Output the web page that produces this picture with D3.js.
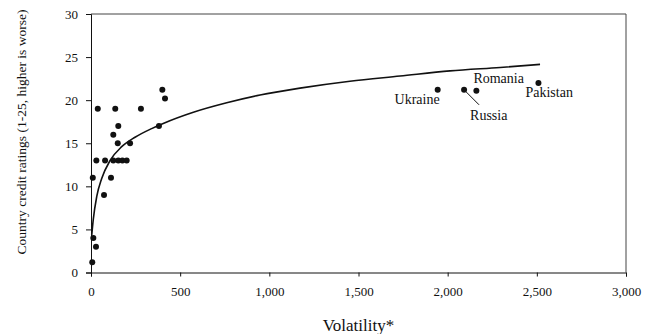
<!DOCTYPE html>
<html>
<head>
<meta charset="utf-8">
<script src="https://cdn.jsdelivr.net/npm/d3@7"></script>
<style>
  html, body { margin: 0; padding: 0; background: #fff; }
  svg { display: block; }
  text { font-family: "Liberation Serif", "Times New Roman", serif; fill: #111; }
</style>
</head>
<body>
<svg id="chart" width="645" height="334"></svg>
<script>
// ---- data ----
const volatility = [7, 13, 28, 10, 112, 73, 30, 79, 125, 153, 176, 200, 150, 219, 125, 153, 38, 136, 280, 381, 400, 415, 1944, 2092, 2161, 2509];
const rating     = [1.2, 4, 3, 11, 11, 9, 13, 13, 13, 13, 13, 13, 15, 15, 16, 17, 19, 19, 19, 17, 21.2, 20.2, 21.2, 21.2, 21.1, 22];
const countryLabels = [
  { name: "Ukraine",  index: 22 },
  { name: "Russia",   index: 23 },
  { name: "Romania",  index: 24 },
  { name: "Pakistan", index: 25 }
];
// logarithmic trend line
const trendVol    = [4, 13, 32, 60, 107, 172, 247, 340, 405, 574, 761, 948, 1172, 1452, 1733, 2013, 2294, 2518];
const trendRating = [4.3, 6.2, 8.8, 10.9, 13.0, 14.6, 15.7, 16.7, 17.3, 18.6, 19.7, 20.6, 21.4, 22.2, 22.8, 23.4, 23.8, 24.15];
const xTicks = [0, 500, 1000, 1500, 2000, 2500, 3000];
const yTicks = [0, 5, 10, 15, 20, 25, 30];

// ---- layout ----
const svg = d3.select("#chart");
const plotL = 91, plotR = 626, plotT = 14, plotB = 272.5;

const x = d3.scaleLinear().domain([0, 3000]).range([plotL, plotR]);
const y = d3.scaleLinear().domain([0, 30]).range([plotB, plotT]);

// frame (top and right)
svg.append("line").attr("x1", plotL).attr("x2", plotR).attr("y1", plotT).attr("y2", plotT)
  .attr("stroke", "#444").attr("stroke-width", 1);
svg.append("line").attr("x1", plotR).attr("x2", plotR).attr("y1", plotT).attr("y2", plotB)
  .attr("stroke", "#444").attr("stroke-width", 1);

// x axis
const xAxis = svg.append("g").attr("transform", `translate(0,${plotB})`)
  .call(d3.axisBottom(x).tickValues(xTicks).tickFormat(d3.format(",")).tickSize(4).tickPadding(10));
xAxis.selectAll("text").style("font-size", "13px").attr("fill", "#111");
xAxis.select(".domain").attr("stroke", "#111");
xAxis.selectAll(".tick line").attr("stroke", "#111");

// y axis
const yAxis = svg.append("g").attr("transform", `translate(${plotL},0)`)
  .call(d3.axisLeft(y).tickValues(yTicks).tickSize(5).tickPadding(8));
yAxis.selectAll("text").style("font-size", "13px").attr("fill", "#111");
yAxis.select(".domain").attr("stroke", "#111");
yAxis.selectAll(".tick line").attr("stroke", "#111");

// axis titles
svg.append("text")
  .attr("transform", "translate(26,132) rotate(-90)")
  .attr("text-anchor", "middle")
  .style("font-size", "13.5px")
  .text("Country credit ratings (1-25, higher is worse)");

svg.append("text")
  .attr("x", (plotL + plotR) / 2).attr("y", 331)
  .attr("text-anchor", "middle")
  .style("font-size", "17px")
  .text("Volatility*");

// trend line
const trend = trendVol.map((v, i) => [v, trendRating[i]]);
svg.append("path")
  .datum(trend)
  .attr("fill", "none")
  .attr("stroke", "#111")
  .attr("stroke-width", 1.6)
  .attr("d", d3.line().x(d => x(d[0])).y(d => y(d[1])).curve(d3.curveMonotoneX));

// points
const pts = volatility.map((v, i) => [v, rating[i]]);
svg.append("g").selectAll("circle").data(pts).join("circle")
  .attr("cx", d => x(d[0])).attr("cy", d => y(d[1])).attr("r", 3)
  .attr("fill", "#111");

// country labels
const lab = svg.append("g").style("font-size", "14px");
const offsets = {
  Ukraine:  { dx: 2,   dy: 14, anchor: "end" },
  Russia:   { dx: 6,   dy: 30, anchor: "start" },
  Romania:  { dx: -3,  dy: -8, anchor: "start" },
  Pakistan: { dx: -13, dy: 14, anchor: "start" }
};
countryLabels.forEach(c => {
  const px = x(volatility[c.index]), py = y(rating[c.index]);
  const o = offsets[c.name];
  lab.append("text").attr("x", px + o.dx).attr("y", py + o.dy)
    .attr("text-anchor", o.anchor).text(c.name);
  if (c.name === "Russia") {
    svg.append("line")
      .attr("x1", px + 1).attr("y1", py + 1)
      .attr("x2", px + 15).attr("y2", py + 15)
      .attr("stroke", "#111").attr("stroke-width", 1);
  }
});
</script>
</body>
</html>
